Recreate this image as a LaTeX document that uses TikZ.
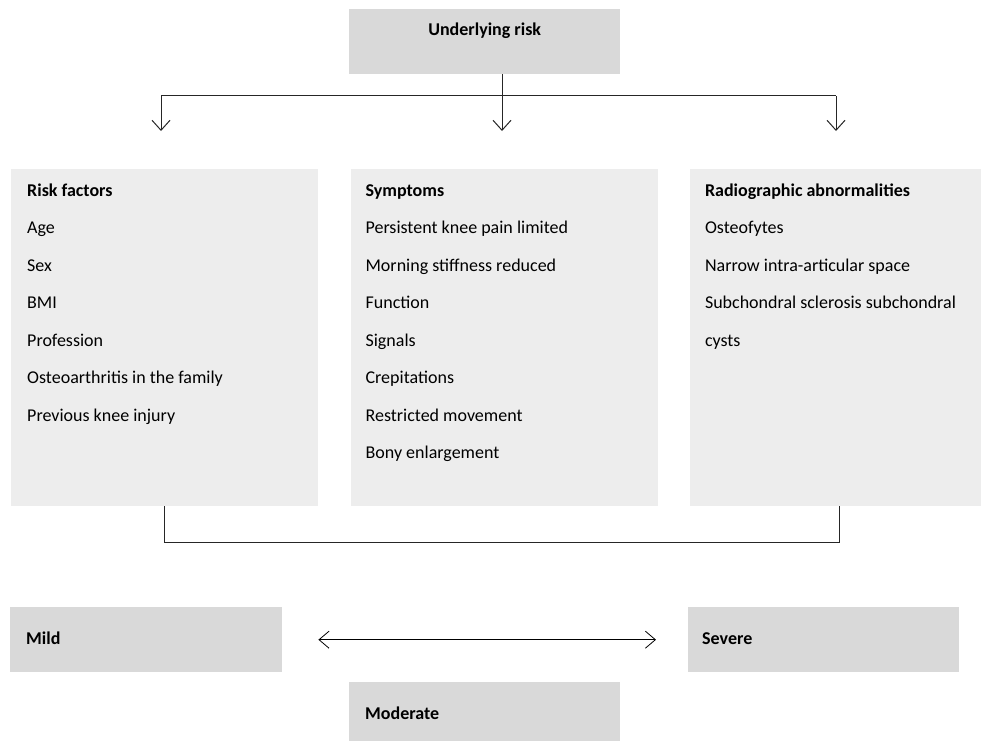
\documentclass[tikz,border=0pt]{standalone}
\usepackage{fontspec}
\setmainfont{Carlito}
\usepackage{tikz}
\usetikzlibrary{arrows.meta,positioning,calc}
\definecolor{levelgray}{HTML}{D9D9D9}
\definecolor{panelgray}{HTML}{EDEDED}
\tikzset{
  levelbox/.style={fill=levelgray,anchor=north west,inner sep=0pt,minimum width=272pt,minimum height=65pt},
  panelbox/.style={fill=panelgray,anchor=north west,inner sep=0pt,minimum width=307pt,minimum height=337pt},
  itemtext/.style={anchor=base west,inner sep=0pt,font=\fontsize{18}{22}\selectfont},
  headtext/.style={itemtext,font=\fontsize{18}{22}\selectfont\bfseries},
  nextitem/.style={below=37.5pt of #1.base west,anchor=base west},
  flowline/.style={line width=1pt,draw=black!85},
  flowarrow/.style={flowline,-{Straight Barb[length=10pt,width=18pt]}},
  twoarrow/.style={line width=.8pt,{Straight Barb[length=10pt,width=17pt]}-{Straight Barb[length=10pt,width=17pt]}}
}

\begin{document}
\begin{tikzpicture}[x=1pt,y=1pt]
  \useasboundingbox (0,0) rectangle (981,-741);
  % top box
  \node[levelbox,minimum width=271pt] (risk) at (349,-9) {};
  \node[headtext,anchor=base] (risktext) at ([yshift=-27pt]risk.north) {Underlying risk};
  % three panels
  \node[panelbox] (factors) at (11,-169) {};
  \node[panelbox,right=32pt of factors] (symptoms) {};
  \node[panelbox,minimum width=293pt,right=32pt of symptoms] (radio) {};
  \node[headtext] (factorshead) at ([xshift=16pt,yshift=-27pt]factors.north west) {Risk factors};
  \node[itemtext,nextitem=factorshead] (age) {Age};
  \node[itemtext,nextitem=age] (sex) {Sex};
  \node[itemtext,nextitem=sex] (bmi) {BMI};
  \node[itemtext,nextitem=bmi] (profession) {Profession};
  \node[itemtext,nextitem=profession] (family) {Osteoarthritis in the family};
  \node[itemtext,nextitem=family] (injury) {Previous knee injury};
  \node[headtext] (symptomshead) at ([xshift=15pt,yshift=-27pt]symptoms.north west) {Symptoms};
  \node[itemtext,nextitem=symptomshead] (pain) {Persistent knee pain limited};
  \node[itemtext,nextitem=pain] (stiffness) {Morning stiffness reduced};
  \node[itemtext,nextitem=stiffness] (function) {Function};
  \node[itemtext,nextitem=function] (signals) {Signals};
  \node[itemtext,nextitem=signals] (crepitations) {Crepitations};
  \node[itemtext,nextitem=crepitations] (movement) {Restricted movement};
  \node[itemtext,nextitem=movement] (enlargement) {Bony enlargement};
  \node[headtext] (radiohead) at ([xshift=15pt,yshift=-27pt]radio.north west) {Radiographic abnormalities};
  \node[itemtext,nextitem=radiohead] (osteofytes) {Osteofytes};
  \node[itemtext,nextitem=osteofytes] (narrow) {Narrow intra-articular space};
  \node[itemtext,nextitem=narrow] (sclerosis) {Subchondral sclerosis subchondral};
  \node[itemtext,nextitem=sclerosis] (cysts) {cysts};
  % severity levels
  \node[levelbox] (mild) at (10,-607) {};
  \node[levelbox,minimum width=271pt] (severe) at (688,-607) {};
  \node[levelbox,minimum width=271pt,minimum height=59pt] (moderate) at (349,-682) {};
  \node[headtext] (mildtext) at ([xshift=16pt,yshift=-37pt]mild.north west) {Mild};
  \node[headtext] (severetext) at ([xshift=14pt,yshift=-37pt]severe.north west) {Severe};
  \node[headtext] (moderatetext) at ([xshift=16pt,yshift=-37pt]moderate.north west) {Moderate};
  % connectors
  \coordinate (split) at (502,-96);
  \coordinate (tipfactors) at (161,-131);
  \coordinate (tipsymptoms) at (502,-131);
  \coordinate (tipradio) at (836,-131);
  \coordinate (joinleft) at (164,-542);
  \coordinate (joinright) at (839,-542);
  \draw[flowline] (tipfactors |- split) -- (tipradio |- split);
  \draw[flowarrow] (risk.south -| split) -- (tipsymptoms);
  \draw[flowarrow] (tipfactors |- split) -- (tipfactors);
  \draw[flowarrow] (tipradio |- split) -- (tipradio);
  \draw[flowline] (factors.south -| joinleft) -- (joinleft) -- (joinright) -- (radio.south -| joinright);
  \draw[twoarrow] ([xshift=36pt]mild.east) -- ([xshift=-32pt]severe.west);
\end{tikzpicture}
\end{document}
